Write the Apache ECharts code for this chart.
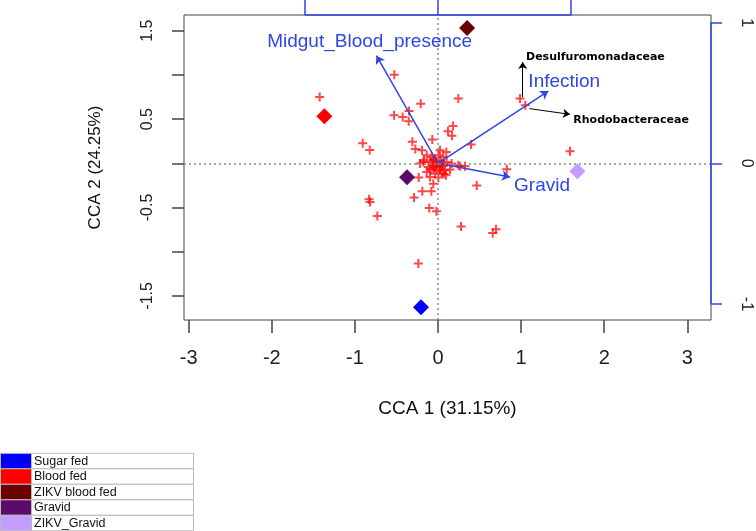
<!DOCTYPE html>
<html><head><meta charset="utf-8">
<script src="https://cdn.jsdelivr.net/npm/echarts@6/dist/echarts.min.js"></script>
<style>html,body{margin:0;padding:0;background:#fff}#c{width:756px;height:531px}</style>
</head><body><div id="c"></div>
<script>
// ---- data ----
const sitePoints = [
  [-0.526,1.003],[-1.424,0.750],[-0.208,0.675],[-0.349,0.592],[-0.529,0.543],[-0.425,0.524],
  [-0.353,0.475],[0.244,0.732],[0.181,0.422],[0.120,0.362],[0.168,0.313],[-0.906,0.226],
  [-0.822,0.150],[-0.309,0.245],[-0.069,0.268],[-0.273,0.162],[-0.193,0.147],[0.024,0.147],
  [0.100,0.128],[-0.232,-0.162],[-0.057,-0.230],[-0.189,-0.317],[-0.081,-0.317],[-0.289,-0.388],
  [-0.830,-0.407],[-0.818,-0.438],[-0.105,-0.506],[-0.020,-0.543],[-0.730,-0.596],[0.277,-0.716],
  [-0.237,-1.135],[0.325,-0.034],[0.096,-0.136],[0.987,0.732],[1.051,0.656],[0.397,0.212],
  [1.588,0.136],[0.265,-0.034],[0.827,-0.068],[0.466,-0.252],[0.658,-0.788],[0.698,-0.747],
  [-0.136,0.090],[-0.076,0.071],[0.004,0.090],[0.064,0.071],[-0.177,0.015],[-0.096,0.015],
  [-0.036,-0.003],[0.044,-0.003],[0.104,0.015],[0.164,-0.003],[0.244,-0.023],[-0.116,-0.042],
  [-0.056,-0.060],[0.024,-0.060],[0.084,-0.079],[0.144,-0.071],[-0.136,-0.098],[-0.036,-0.117],
  [0.044,-0.110],[-0.096,-0.155],[0.004,-0.162],[-0.217,-0.003],[-0.057,0.034],[-0.016,-0.034],
  [-0.168,0.034],[-0.020,0.020],[0.020,-0.020],[-0.060,-0.020],[0.060,-0.030],[-0.010,-0.080],
  [0.030,0.030],[-0.090,-0.070],[0.070,-0.120],[-0.040,0.050],[0.010,-0.045]
];
const groupNames = ['Sugar fed','Blood fed','ZIKV blood fed','Gravid','ZIKV_Gravid'];
const groupColors = ['#0000ff','#ff0000','#6b0000','#5c0a6c','#c59cff'];
const groupCentroids = [[-0.205,-1.63],[-1.368,0.532],[0.35,1.53],[-0.373,-0.158],[1.677,-0.09]];
const envNames = ['Midgut_Blood_presence','Infection','Gravid'];
const envArrowTips = [[-0.741,1.217],[1.327,0.818],[0.866,-0.155]];
const envLabelAt = [[-0.823,1.372],[1.087,0.92],[0.915,-0.249]];
const taxaNames = ['Desulfuromonadaceae','Rhodobacteraceae'];
const taxaArrowFrom = [[1.019,0.75],[1.099,0.619]];
const taxaArrowTo = [[1.019,1.146],[1.588,0.554]];
const taxaLabelAt = [[1.059,1.196],[1.628,0.486]];
const xTicks = [-3,-2,-1,0,1,2,3];
const yTicks = [-1.5,-1,-0.5,0,0.5,1,1.5];
const yTickLabels = [-1.5,-0.5,0.5,1.5];
const sideTicks = [-1,0,1];
const xTitle = 'CCA 1 (31.15%)';
const yTitle = 'CCA 2 (24.25%)';

// ---- chart ----
const BLUE = '#2f45e6';
const FONT = 'Liberation Sans, Arial, sans-serif';
const X = {min:-3.057, max:3.285}, Y = {min:-1.773, max:1.678};
const XT = {min:-1.907, max:2.050}, YR = {min:-1.114, max:1.054};
const plus = 'path://M3.5,0H5.5V3.5H9V5.5H5.5V9H3.5V5.5H0V3.5H3.5Z';

const legendGraphics = [];
groupNames.forEach((n, i) => {
  const y = 453.3 + i * 15.5;
  legendGraphics.push({type:'rect', shape:{x:0.5, y:y, width:31, height:15.5},
    style:{fill:groupColors[i], stroke:'#bbbbbb', lineWidth:1}});
  legendGraphics.push({type:'rect', shape:{x:31.5, y:y, width:162, height:15.5},
    style:{fill:'#fff', stroke:'#bbbbbb', lineWidth:1}});
  legendGraphics.push({type:'text', x:34, y:y + 8,
    style:{text:n, fill:'#111', font:'12.5px ' + FONT, verticalAlign:'middle'}});
});

const series = [
  {
    type:'scatter', name:'sites', data:sitePoints, symbol:plus, symbolSize:9,
    itemStyle:{color:'rgba(255,0,0,0.72)', opacity:1}, z:3,
    markLine:{silent:true, symbol:'none', label:{show:false},
      lineStyle:{type:[2,3], color:'#8a8a8a', width:1.5},
      data:[{xAxis:0},{yAxis:0}]}
  },
  {
    type:'lines', coordinateSystem:'cartesian2d', z:4,
    symbol:['none','arrow'], symbolSize:8,
    lineStyle:{color:BLUE, width:1.5, opacity:1},
    data: envArrowTips.map(t => ({coords:[[0,0], t]}))
  },
  {
    type:'lines', coordinateSystem:'cartesian2d', z:4,
    symbol:['none','arrow'], symbolSize:7,
    lineStyle:{color:'#000', width:1, opacity:1},
    data: taxaArrowFrom.map((f, i) => ({coords:[f, taxaArrowTo[i]]}))
  },
  {
    type:'lines', coordinateSystem:'cartesian2d', xAxisIndex:1, yAxisIndex:1, z:5, clip:false,
    symbol:'none', lineStyle:{color:BLUE, width:1.5, opacity:1},
    data:[{coords:[[sideTicks[0], YR.max],[sideTicks[2], YR.max]]},
          {coords:[[XT.max, sideTicks[2]],[XT.max, sideTicks[0]]]}]
  },
  {
    type:'scatter', symbolSize:0, z:6, silent:true, itemStyle:{opacity:1},
    data: envNames.map((n, i) => ({value:envLabelAt[i], name:n})),
    label:{show:true, formatter:p => p.name, color:BLUE, fontSize:19, fontFamily:FONT,
      position:'right', distance:0}
  },
  {
    type:'scatter', symbolSize:0, z:6, silent:true, itemStyle:{opacity:1},
    data: taxaNames.map((n, i) => ({value:taxaLabelAt[i], name:n})),
    label:{show:true, formatter:p => p.name, color:'#000', fontSize:11, fontWeight:'bold',
      fontFamily:'DejaVu Sans', position:'right', distance:0}
  }
];
// Midgut label is centred on its anchor
series[4].data[0].label = {position:'inside', align:'center'};

groupNames.forEach((n, i) => {
  series.push({type:'scatter', name:n, data:[groupCentroids[i]], symbol:'diamond',
    symbolSize:16, itemStyle:{color:groupColors[i], opacity:1}, z:7});
});

const chart = echarts.init(document.getElementById('c'), null, {renderer:'canvas'});
chart.setOption({
  animation:false,
  backgroundColor:'#fff',
  grid:{left:184, right:45, top:15, bottom:211, show:true, borderColor:'#444', borderWidth:1,
    backgroundColor:'transparent'},
  xAxis:[
    {type:'value', min:X.min, max:X.max, position:'bottom',
     axisLine:{show:false, onZero:false}, splitLine:{show:false},
     axisTick:{show:true, customValues:xTicks, length:13, lineStyle:{color:'#444', width:1.5}},
     axisLabel:{customValues:xTicks, fontSize:20, color:'#222', fontFamily:FONT, margin:28},
     name:xTitle, nameLocation:'middle', nameGap:79,
     nameTextStyle:{fontSize:19, color:'#111', fontFamily:FONT}},
    {type:'value', min:XT.min, max:XT.max, position:'top',
     axisLine:{show:false, onZero:false}, splitLine:{show:false},
     axisTick:{show:true, customValues:sideTicks, length:16, lineStyle:{color:BLUE, width:1.5}},
     axisLabel:{show:false}}
  ],
  yAxis:[
    {type:'value', min:Y.min, max:Y.max, position:'left',
     axisLine:{show:false, onZero:false}, splitLine:{show:false},
     axisTick:{show:true, customValues:yTicks, length:12, lineStyle:{color:'#444', width:1.5}},
     axisLabel:{customValues:yTickLabels, rotate:90, fontSize:16, color:'#222', fontFamily:FONT, margin:28},
     name:yTitle, nameLocation:'middle', nameGap:80,
     nameTextStyle:{fontSize:17, color:'#111', fontFamily:FONT}},
    {type:'value', min:YR.min, max:YR.max, position:'right',
     axisLine:{show:false, onZero:false}, splitLine:{show:false},
     axisTick:{show:true, customValues:sideTicks, length:11, lineStyle:{color:BLUE, width:1.5}},
     axisLabel:{customValues:sideTicks, rotate:-90, fontSize:16, color:'#222', fontFamily:FONT, margin:27}}
  ],
  series:series,
  graphic:legendGraphics
});
</script>
</body></html>
